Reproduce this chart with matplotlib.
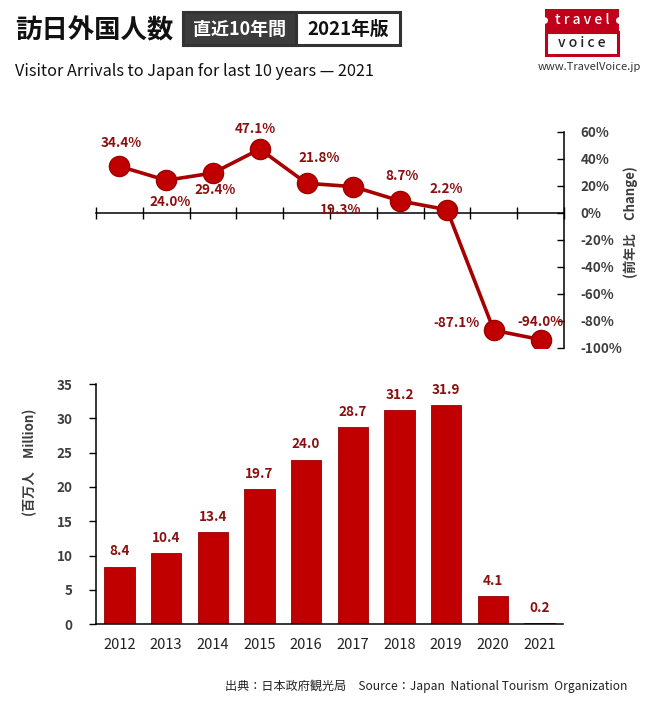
import numpy as np
import matplotlib
matplotlib.use('Agg')
import matplotlib.pyplot as plt
from matplotlib.patches import Rectangle, Circle

plt.rcParams['font.family'] = ['Noto Sans CJK JP', 'DejaVu Sans']

# データ
years = ['2012', '2013', '2014', '2015', '2016', '2017', '2018', '2019', '2020', '2021']
change_pct = [34.4, 24.0, 29.4, 47.1, 21.8, 19.3, 8.7, 2.2, -87.1, -94.0]
arrivals_mn = [8.4, 10.4, 13.4, 19.7, 24.0, 28.7, 31.2, 31.9, 4.1, 0.2]
pct_ticks = [60, 40, 20, 0, -20, -40, -60, -80, -100]
mn_ticks = [0, 5, 10, 15, 20, 25, 30, 35]

# ラベル位置 (px, 下向き正)
label_offsets = [(2, -23), (4, 22), (2, 17), (-4, -20), (13, -25),
                 (-13, 23), (2, -25), (-1, -21), (-37, -7), (0, -18)]

W, H = 655, 709
fig = plt.figure(figsize=(W / 100, H / 100), dpi=100)
fig.patch.set_facecolor('white')

def fx(px):
    return px / W

def fy(py):
    return 1 - py / H

red = '#C00000'
dark_red = '#8B0F0F'
grey = '#3d3d3d'
x = np.arange(len(years))

# 上段: 前年比
ax1 = fig.add_axes([fx(96), fy(347.7), 468 / W, 216 / H])
ax1.plot(x, change_pct, color='#A80000', lw=2.6, marker='o', markersize=14.5,
         markerfacecolor=red, markeredgecolor='#A00000', markeredgewidth=1, zorder=3)
for i, v in enumerate(change_pct):
    dx, dy = label_offsets[i]
    ax1.annotate(f'{v:.1f}%', (i, v), xytext=(dx * 0.72, -dy * 0.72),
                 textcoords='offset points', ha='center', va='center',
                 fontsize=9.7, fontweight='bold', color=dark_red, zorder=4)
ax1.set_xlim(-0.5, len(years) - 0.5)
ax1.set_ylim(-100, 60)
for s in ['left', 'top']:
    ax1.spines[s].set_visible(False)
ax1.spines['bottom'].set_position(('data', 0))
ax1.spines['bottom'].set_linewidth(1.1)
ax1.spines['right'].set_linewidth(1.1)
ax1.set_xticks(np.arange(-0.5, len(years), 1.0))
ax1.set_xticklabels([])
ax1.tick_params(axis='x', direction='inout', length=8, width=1)
ax1.yaxis.tick_right()
ax1.set_yticks(pct_ticks)
ax1.set_yticklabels([f'{t}%' for t in pct_ticks])
ax1.tick_params(axis='y', direction='in', length=5, width=1, pad=12,
                labelsize=9.7, labelcolor=grey)
for lab in ax1.get_yticklabels():
    lab.set_fontweight('bold')
ax1.set_ylabel('(前年比　Change)', fontsize=9.5, fontweight='bold', color=grey,
               rotation=90)
ax1.yaxis.set_label_position('right')
ax1.yaxis.set_label_coords(1.126, 0.582)

# 下段: 訪日外国人数
ax2 = fig.add_axes([fx(96), fy(624.3), 467 / W, 240.3 / H])
ax2.bar(x, arrivals_mn, width=0.65, color=red, edgecolor='#9A0000', linewidth=0.6)
for i, v in enumerate(arrivals_mn):
    ax2.annotate(f'{v:.1f}', (i, v), xytext=(0, 11), textcoords='offset points',
                 ha='center', va='center', fontsize=9.7, fontweight='bold',
                 color=dark_red)
ax2.set_xlim(-0.5, len(years) - 0.5)
ax2.set_ylim(0, 35)
for s in ['right', 'top']:
    ax2.spines[s].set_visible(False)
ax2.spines['left'].set_linewidth(1.1)
ax2.spines['bottom'].set_linewidth(1.1)
ax2.set_xticks(x)
ax2.set_xticklabels(years)
ax2.tick_params(axis='x', length=0, pad=10, labelsize=10.5, labelcolor='#222222')
ax2.set_yticks(mn_ticks)
ax2.tick_params(axis='y', direction='out', length=5, width=1, pad=12,
                labelsize=9.7, labelcolor=grey)
for lab in ax2.get_yticklabels():
    lab.set_fontweight('bold')
ax2.set_ylabel('(百万人　Million)', fontsize=9.5, fontweight='bold', color=grey)
ax2.yaxis.set_label_coords(-0.126, 0.675)

# ヘッダー
fig.text(fx(15), fy(31), '訪日外国人数', fontsize=19, fontweight='bold',
         color='#111111', ha='left', va='center')
fig.patches.append(Rectangle((fx(183), fy(45)), fx(400) - fx(183), fy(12) - fy(45),
                             transform=fig.transFigure, facecolor='white',
                             edgecolor='#333333', linewidth=2.2))
fig.patches.append(Rectangle((fx(183), fy(45)), fx(296) - fx(183), fy(12) - fy(45),
                             transform=fig.transFigure, facecolor='#3c3c3c',
                             edgecolor='#333333', linewidth=2.2))
fig.text(fx(239.5), fy(29), '直近10年間', fontsize=13, fontweight='bold',
         color='white', ha='center', va='center')
fig.text(fx(348), fy(29), '2021年版', fontsize=13.5, fontweight='bold',
         color='#111111', ha='center', va='center')
fig.text(fx(15), fy(71), 'Visitor Arrivals to Japan for last 10 years — 2021',
         fontsize=11.7, color='#111111', ha='left', va='center')

# ロゴ
fig.patches.append(Rectangle((fx(546), fy(55)), fx(618) - fx(546), fy(31.5) - fy(55),
                             transform=fig.transFigure, facecolor='white',
                             edgecolor='#C0001A', linewidth=2.2))
fig.patches.append(Rectangle((fx(545), fy(31.5)), fx(619) - fx(545), fy(9) - fy(31.5),
                             transform=fig.transFigure, facecolor='#C0001A',
                             edgecolor='none'))
for cx in [545, 619]:
    fig.patches.append(Circle((fx(cx), fy(20.5)), 3 / W, transform=fig.transFigure,
                              facecolor='white', edgecolor='none'))
fig.text(fx(582), fy(20), 't r a v e l', fontsize=10, fontweight='medium',
         color='white', ha='center', va='center')
fig.text(fx(582), fy(43), 'v o i c e', fontsize=10, fontweight='medium',
         color='#222222', ha='center', va='center')
fig.text(fx(589), fy(66.5), 'www.TravelVoice.jp', fontsize=8, color='#333333',
         ha='center', va='center')

# 出典
fig.text(fx(627), fy(686), '出典：日本政府観光局　Source：Japan  National Tourism  Organization',
         fontsize=8.7, color='#222222', ha='right', va='center')

fig.savefig('out.png', dpi=100, facecolor='white')
